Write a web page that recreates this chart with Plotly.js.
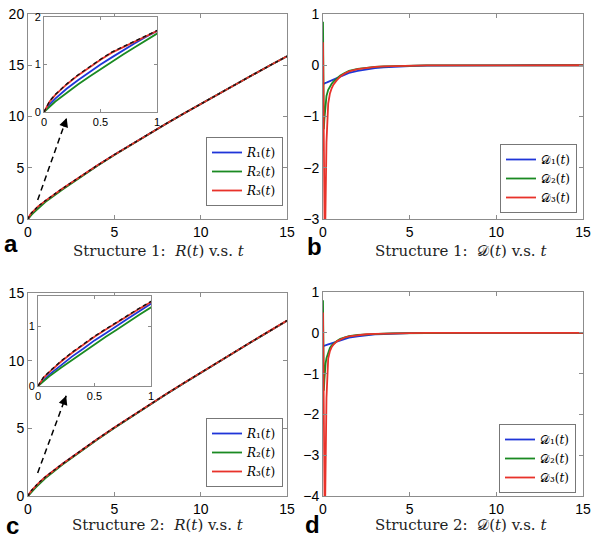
<!DOCTYPE html>
<html>
<head>
<meta charset="utf-8">
<script src="https://cdn.plot.ly/plotly-3.0.1.min.js"></script>
<style>
  html, body { margin: 0; padding: 0; background: #fff; }
  #chart { width: 600px; height: 546px; }
</style>
</head>
<body>
<div id="chart"></div>
<script>
// ---- R(t) panels (a, c): time samples and curves ----
const tR = [0, 0.05, 0.1, 0.2, 0.3, 0.4, 0.5, 0.6, 0.7, 0.8, 0.9, 1, 2, 3, 4, 5, 6, 7, 8, 9, 10, 11, 12, 13, 14, 15];

const R1a = [0, 0.16, 0.28, 0.49, 0.67, 0.84, 1.0, 1.15, 1.3, 1.44, 1.58, 1.72, 2.94, 4.1, 5.2, 6.26, 7.29, 8.3, 9.29, 10.27, 11.23, 12.18, 13.12, 14.05, 14.97, 15.88];
const R2a = [0, 0.12, 0.22, 0.4, 0.58, 0.74, 0.9, 1.06, 1.21, 1.36, 1.51, 1.65, 2.88, 4.06, 5.18, 6.25, 7.29, 8.3, 9.29, 10.27, 11.23, 12.18, 13.12, 14.05, 14.97, 15.88];
const R3a = [0, 0.22, 0.36, 0.58, 0.77, 0.94, 1.1, 1.25, 1.38, 1.52, 1.65, 1.77, 2.98, 4.12, 5.21, 6.27, 7.3, 8.31, 9.3, 10.27, 11.23, 12.18, 13.12, 14.05, 14.97, 15.88];
const exactA = [0, 0.23, 0.37, 0.59, 0.78, 0.95, 1.11, 1.26, 1.39, 1.53, 1.66, 1.78, 2.98, 4.12, 5.21, 6.27, 7.3, 8.31, 9.3, 10.27, 11.23, 12.18, 13.12, 14.05, 14.97, 15.88];

const R1c = [0, 0.1, 0.19, 0.34, 0.49, 0.62, 0.76, 0.88, 1.01, 1.13, 1.25, 1.37, 2.36, 3.29, 4.18, 5.05, 5.89, 6.71, 7.52, 8.32, 9.11, 9.89, 10.66, 11.43, 12.19, 12.95];
const R2c = [0, 0.08, 0.16, 0.3, 0.43, 0.57, 0.69, 0.82, 0.94, 1.07, 1.19, 1.31, 2.32, 3.26, 4.16, 5.03, 5.88, 6.7, 7.52, 8.32, 9.11, 9.89, 10.66, 11.43, 12.19, 12.95];
const R3c = [0, 0.14, 0.23, 0.4, 0.55, 0.69, 0.82, 0.94, 1.06, 1.18, 1.29, 1.4, 2.38, 3.31, 4.2, 5.06, 5.9, 6.72, 7.53, 8.33, 9.12, 9.9, 10.67, 11.44, 12.2, 12.96];
const exactC = [0, 0.15, 0.24, 0.41, 0.56, 0.7, 0.83, 0.95, 1.07, 1.19, 1.3, 1.41, 2.38, 3.31, 4.2, 5.06, 5.9, 6.72, 7.53, 8.33, 9.12, 9.9, 10.67, 11.44, 12.2, 12.96];

// ---- D(t) panels (b, d) ----
const tD = [0, 0.02, 0.05, 0.08, 0.1, 0.12, 0.15, 0.2, 0.3, 0.4, 0.5, 0.6, 0.8, 1, 1.25, 1.5, 2, 2.5, 3, 3.5, 4, 5, 6, 8, 10, 12, 15];

const D1b = [-0.37, -0.365, -0.36, -0.355, -0.35, -0.348, -0.345, -0.34, -0.325, -0.31, -0.295, -0.28, -0.25, -0.22, -0.18, -0.15, -0.11, -0.08, -0.055, -0.04, -0.03, -0.015, -0.008, -0.002, 0, 0, 0];
const D2b = [0.85, -0.4, -1.25, -1.05, -0.95, -0.82, -0.7, -0.6, -0.48, -0.41, -0.36, -0.32, -0.25, -0.2, -0.15, -0.11, -0.07, -0.045, -0.03, -0.02, -0.015, -0.008, -0.004, -0.001, 0, 0, 0];
const D3b = [0.45, -0.5, -2.2, -3.3, -3.5, -3.4, -2.9, -1.5, -0.75, -0.55, -0.45, -0.38, -0.29, -0.22, -0.16, -0.12, -0.075, -0.048, -0.032, -0.022, -0.016, -0.008, -0.004, -0.001, 0, 0, 0];

const D1d = [-0.33, -0.328, -0.325, -0.322, -0.32, -0.315, -0.31, -0.3, -0.285, -0.27, -0.255, -0.24, -0.21, -0.18, -0.15, -0.12, -0.085, -0.06, -0.04, -0.03, -0.02, -0.01, -0.005, -0.001, 0, 0, 0];
const D2d = [0.8, -0.5, -1.42, -1.15, -1.0, -0.88, -0.75, -0.62, -0.46, -0.37, -0.31, -0.27, -0.2, -0.15, -0.11, -0.08, -0.05, -0.035, -0.025, -0.018, -0.012, -0.006, -0.003, -0.001, 0, 0, 0];
const D3d = [0.5, -0.8, -3.0, -4.5, -4.6, -4.3, -3.4, -1.6, -0.63, -0.45, -0.35, -0.29, -0.21, -0.16, -0.115, -0.085, -0.052, -0.036, -0.026, -0.018, -0.012, -0.006, -0.003, -0.001, 0, 0, 0];

const namesR = ["<i>R</i>\u2081(<i>t</i>)", "<i>R</i>\u2082(<i>t</i>)", "<i>R</i>\u2083(<i>t</i>)"];
const namesD = ["\u{1D49F}\u2081(<i>t</i>)", "\u{1D49F}\u2082(<i>t</i>)", "\u{1D49F}\u2083(<i>t</i>)"];
const captions = [
  "Structure 1:  <i>R</i>(<i>t</i>) v.s. <i>t</i>",
  "Structure 1:  \u{1D49F}(<i>t</i>) v.s. <i>t</i>",
  "Structure 2:  <i>R</i>(<i>t</i>) v.s. <i>t</i>",
  "Structure 2:  \u{1D49F}(<i>t</i>) v.s. <i>t</i>"
];
const panelLetters = ["a", "b", "c", "d"];

const colors = ["#1f35d8", "#1a8a22", "#e8322a"];
const serif = "DejaVu Serif, Liberation Serif, serif";
const sans = "Liberation Sans, Arial, sans-serif";

const W = 600, H = 546;
const px = v => v / W;
const py = v => 1 - v / H;

function line(x, y, i, xa, ya, name, legend, show) {
  return {
    x, y, type: "scatter", mode: "lines", name,
    xaxis: xa, yaxis: ya, legend,
    showlegend: show,
    line: { color: colors[i], width: 1.8 },
    hoverinfo: "skip"
  };
}

function exactLine(x, y, xa, ya, dash) {
  return {
    x, y, type: "scatter", mode: "lines", xaxis: xa, yaxis: ya,
    showlegend: false,
    line: { color: "#111", width: 1.4, dash },
    hoverinfo: "skip"
  };
}

const traces = [];
[R1a, R2a, R3a].forEach((y, i) => traces.push(line(tR, y, i, "x", "y", namesR[i], "legend", true)));
traces.push(exactLine(tR, exactA, "x", "y", "3px,3px"));
[D1b, D2b, D3b].forEach((y, i) => traces.push(line(tD, y, i, "x2", "y2", namesD[i], "legend2", true)));
[R1c, R2c, R3c].forEach((y, i) => traces.push(line(tR, y, i, "x3", "y3", namesR[i], "legend3", true)));
traces.push(exactLine(tR, exactC, "x3", "y3", "3px,3px"));
[D1d, D2d, D3d].forEach((y, i) => traces.push(line(tD, y, i, "x4", "y4", namesD[i], "legend4", true)));
// insets
[R1a, R2a, R3a].forEach((y, i) => traces.push(line(tR, y, i, "x5", "y5", namesR[i], "legend", false)));
traces.push(exactLine(tR, exactA, "x5", "y5", "4px,3px"));
[R1c, R2c, R3c].forEach((y, i) => traces.push(line(tR, y, i, "x6", "y6", namesR[i], "legend3", false)));
traces.push(exactLine(tR, exactC, "x6", "y6", "4px,3px"));

function axis(domain, range, dtick, extra) {
  return Object.assign({
    domain, range, dtick, tick0: 0,
    showline: true, mirror: "allticks", linecolor: "#8c8c8c", linewidth: 1,
    ticks: "inside", ticklen: 4, tickcolor: "#8c8c8c",
    showgrid: false, zeroline: false,
    tickfont: { family: sans, size: 14, color: "#000" },
    fixedrange: true
  }, extra || {});
}

const inFont = { family: sans, size: 11, color: "#000" };

const xa = [px(28), px(287)], xb = [px(323), px(583)];
const yTop = [py(219), py(14)], yBot = [py(496), py(293)];

const layout = {
  width: W, height: H,
  margin: { l: 0, r: 0, t: 0, b: 0 },
  paper_bgcolor: "#fff", plot_bgcolor: "#fff",
  xaxis:  axis(xa, [0, 15], 5, { anchor: "y" }),
  yaxis:  axis(yTop, [0, 20], 5, { anchor: "x" }),
  xaxis2: axis(xb, [0, 15], 5, { anchor: "y2" }),
  yaxis2: axis(yTop, [-3, 1], 1, { anchor: "x2" }),
  xaxis3: axis(xa, [0, 15], 5, { anchor: "y3" }),
  yaxis3: axis(yBot, [0, 15], 5, { anchor: "x3" }),
  xaxis4: axis(xb, [0, 15], 5, { anchor: "y4" }),
  yaxis4: axis([py(496), py(292)], [-4, 1], 1, { anchor: "x4" }),
  xaxis5: axis([px(44), px(157)], [0, 1], 0.5, { anchor: "y5", tickfont: inFont, ticklen: 3 }),
  yaxis5: axis([py(112), py(17)], [0, 2], 1, { anchor: "x5", tickfont: inFont, ticklen: 3 }),
  xaxis6: axis([px(38), px(151)], [0, 1], 0.5, { anchor: "y6", tickfont: inFont, ticklen: 3 }),
  yaxis6: axis([py(386), py(296)], [0, 1.5], 1, { anchor: "x6", tickfont: inFont, ticklen: 3 }),
  showlegend: true,
  annotations: [],
  shapes: []
};

function legendAt(x, y) {
  return {
    x, y, xanchor: "right", yanchor: "bottom",
    bgcolor: "#fff", bordercolor: "#777", borderwidth: 1,
    font: { family: serif, size: 12, color: "#000" },
    itemwidth: 30, tracegroupgap: 0
  };
}
layout.legend = legendAt(px(283), py(206));
layout.legend2 = legendAt(px(577), py(213));
layout.legend3 = legendAt(px(283), py(487));
layout.legend4 = legendAt(px(576), py(493));

// captions under each panel
const captionPos = [[159, 251], [461, 251], [158, 525], [461, 525]];
captionPos.forEach(([x, y], i) => {
  layout.annotations.push({
    xref: "paper", yref: "paper", x: px(x), y: py(y),
    xanchor: "center", yanchor: "middle",
    text: captions[i], showarrow: false,
    font: { family: serif, size: 15, color: "#222" }
  });
});

// panel letters
const letterPos = [[11, 244], [314, 247], [12, 525], [313, 524]];
letterPos.forEach(([x, y], i) => {
  layout.annotations.push({
    xref: "paper", yref: "paper", x: px(x), y: py(y),
    xanchor: "center", yanchor: "middle",
    text: "<b>" + panelLetters[i] + "</b>", showarrow: false,
    font: { family: sans, size: 24, color: "#000" }
  });
});

// dashed arrows pointing to the insets
const arrows = [
  { xr: "x", yr: "y", tail: [0.56, 1.85], head: [2.24, 9.85] },
  { xr: "x3", yr: "y3", tail: [0.56, 1.7], head: [2.21, 7.4] }
];
arrows.forEach(a => {
  layout.shapes.push({
    type: "line", xref: a.xr, yref: a.yr,
    x0: a.tail[0], y0: a.tail[1], x1: a.head[0], y1: a.head[1],
    line: { color: "#000", width: 1.5, dash: "6px,4px" }
  });
  layout.annotations.push({
    xref: a.xr, yref: a.yr, axref: a.xr, ayref: a.yr,
    x: a.head[0], y: a.head[1],
    ax: a.head[0] - (a.head[0] - a.tail[0]) * 0.12,
    ay: a.head[1] - (a.head[1] - a.tail[1]) * 0.12,
    text: "", showarrow: true, arrowhead: 2, arrowsize: 1.2, arrowwidth: 1.5, arrowcolor: "#000"
  });
});

Plotly.newPlot("chart", traces, layout, { displayModeBar: false, staticPlot: true });
</script>
</body>
</html>
